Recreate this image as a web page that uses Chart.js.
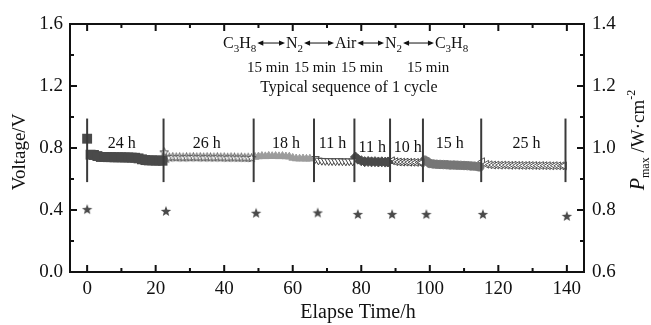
<!DOCTYPE html>
<html>
<head>
<meta charset="utf-8">
<script src="https://cdn.jsdelivr.net/npm/chart.js@4.4.1/dist/chart.umd.min.js"></script>
<style>
  html, body { margin: 0; padding: 0; background: #fff; }
  #wrap { width: 651px; height: 325px; }
</style>
</head>
<body>
<div id="wrap"><canvas id="chart"></canvas></div>
<script>
// ---- data ----
const x1 = [0, 1, 2, 3, 4, 5, 6, 7, 8, 9, 10, 11, 12, 13, 14, 15, 16, 17, 18, 19, 20, 21, 22];
const v1 = [0.86, 0.757, 0.755, 0.748, 0.742, 0.742, 0.741, 0.741, 0.740, 0.740, 0.740, 0.739, 0.739, 0.738, 0.737, 0.733, 0.727, 0.722, 0.720, 0.720, 0.719, 0.719, 0.718];

const x2 = [22.5, 23, 24, 25, 26, 27, 28, 29, 30, 31, 32, 33, 34, 35, 36, 37, 38, 39, 40, 41, 42, 43, 44, 45, 46, 47, 48];
const v2 = [0.775, 0.735, 0.742, 0.745, 0.743, 0.744, 0.742, 0.744, 0.743, 0.745, 0.743, 0.744, 0.742, 0.744, 0.743, 0.742, 0.744, 0.742, 0.743, 0.741, 0.743, 0.742, 0.741, 0.742, 0.740, 0.741, 0.739];

const x3 = [49, 50, 51, 52, 53, 54, 55, 56, 57, 58, 59, 60, 61, 62, 63, 64, 65];
const v3 = [0.742, 0.745, 0.748, 0.746, 0.749, 0.747, 0.748, 0.746, 0.748, 0.745, 0.744, 0.736, 0.732, 0.731, 0.732, 0.730, 0.731];

const x4 = [66.6, 67.5, 68.5, 69.5, 70.5, 71.5, 72.5, 73.5, 74.5, 75.5, 76.5, 77.5];
const v4 = [0.730, 0.720, 0.718, 0.717, 0.716, 0.716, 0.715, 0.716, 0.715, 0.714, 0.715, 0.714];

const x5 = [78.3, 79, 80, 81, 82, 83, 84, 85, 86, 87, 87.8];
const v5 = [0.742, 0.728, 0.718, 0.712, 0.713, 0.711, 0.712, 0.710, 0.711, 0.709, 0.710];

const x6 = [89, 90, 91, 92, 93, 94, 95, 96, 97, 97.7];
const v6 = [0.718, 0.712, 0.710, 0.709, 0.709, 0.708, 0.708, 0.707, 0.707, 0.706];

const x7 = [98.5, 99.3, 100, 101, 102, 103, 104, 105, 106, 107, 108, 109, 110, 111, 112, 113, 114, 114.6];
const v7 = [0.722, 0.712, 0.700, 0.697, 0.695, 0.694, 0.693, 0.692, 0.690, 0.690, 0.689, 0.688, 0.687, 0.686, 0.684, 0.683, 0.680, 0.678];

const x8 = [115.3, 116.5, 117.5, 118.5, 119.5, 120.5, 121.5, 122.5, 123.5, 124.5, 125.5, 126.5, 127.5, 128.5, 129.5, 130.5, 131.5, 132.5, 133.5, 134.5, 135.5, 136.5, 137.5, 138.5, 139.2];
const v8 = [0.712, 0.695, 0.692, 0.690, 0.690, 0.689, 0.690, 0.689, 0.688, 0.689, 0.688, 0.688, 0.687, 0.688, 0.687, 0.687, 0.686, 0.687, 0.686, 0.686, 0.685, 0.686, 0.685, 0.685, 0.685];

// Pmax (right axis)
const pmaxX = [0, 23, 49.3, 67.3, 79, 89, 99, 115.5, 140];
const pmaxV = [0.803, 0.797, 0.791, 0.792, 0.787, 0.787, 0.787, 0.787, 0.781];

// switching lines
const sepX = [0, 22.3, 48.6, 66.2, 78, 88.4, 98, 115, 139.6];
const sepLow = 0.58;
const sepHigh = 0.99;

// duration labels
const durText = ['24 h', '26 h', '18 h', '11 h', '11 h', '10 h', '15 h', '25 h'];
const durX = [10.1, 34.9, 58, 71.6, 83.2, 93.6, 105.8, 128.2];
const durY = [0.803, 0.803, 0.800, 0.800, 0.774, 0.774, 0.803, 0.800];

// axes
const xTicks = [0, 20, 40, 60, 80, 100, 120, 140];
const xMinor = [10, 30, 50, 70, 90, 110, 130];
const yTicks = [0.0, 0.4, 0.8, 1.2, 1.6];
const yMinor = [0.2, 0.6, 1.0, 1.4];
const y2Ticks = [0.6, 0.8, 1.0, 1.2, 1.4];
const y2Minor = [0.7, 0.9, 1.1, 1.3];

// inset
const gasNames = [[['C', 0], ['3', 1], ['H', 0], ['8', 1]], [['N', 0], ['2', 1]], [['Air', 0]], [['N', 0], ['2', 1]], [['C', 0], ['3', 1], ['H', 0], ['8', 1]]];
const gasStartX = [39.67, 58.04, 72.33, 86.92, 101.5];
const stepText = ['15 min', '15 min', '15 min', '15 min'];
const stepX = [52.8, 66.5, 80.2, 99.5];
const insetRowY = [1.445, 1.29, 1.161];
const insetTitle = 'Typical sequence of 1 cycle';
const insetTitleX = 76.4;

const SERIF = '"Liberation Serif", "Times New Roman", serif';

function starImg(r, fill, stroke) {
    const c = document.createElement('canvas');
    const s = Math.ceil(r * 2 + 3);
    c.width = s; c.height = s;
    const g = c.getContext('2d');
    g.beginPath();
    for (let i = 0; i < 10; i++) {
        const rr = i % 2 ? r * 0.42 : r;
        const a = -Math.PI / 2 + i * Math.PI / 5;
        g.lineTo(s / 2 + rr * Math.cos(a), s / 2 + 0.6 + rr * Math.sin(a));
    }
    g.closePath();
    g.fillStyle = fill;
    g.fill();
    if (stroke) { g.strokeStyle = stroke; g.lineWidth = 1; g.stroke(); }
    return c;
}

function pts(xs, ys) { return xs.map((x, i) => ({ x: x, y: ys[i] })); }

const dark = '#4a4a4a';
const mid = '#767676';
const light = '#9c9c9c';

const datasets = [];

// vertical separators on top
sepX.forEach(x => {
    datasets.push({
        data: [{ x: x, y: sepLow }, { x: x, y: sepHigh }],
        showLine: true, borderColor: '#3a3a3a', borderWidth: 2, pointRadius: 0
    });
});

datasets.push({ data: pts(pmaxX, pmaxV), yAxisID: 'y2', pointStyle: starImg(5.5, dark) });
datasets.push({ data: pts(x1, v1), pointStyle: 'rect', pointRadius: 7, backgroundColor: dark, borderColor: dark, borderWidth: 0 });
datasets.push({ data: pts(x2, v2), pointStyle: starImg(4.6, '#fff', '#555') });
datasets.push({ data: pts(x3, v3), pointStyle: 'triangle', pointRadius: 4.5, backgroundColor: light, borderColor: light, borderWidth: 1 });
datasets.push({ data: pts(x4, v4), pointStyle: 'triangle', rotation: 180, pointRadius: 4.5, backgroundColor: '#fff', borderColor: '#444', borderWidth: 1 });
datasets.push({ data: pts(x5, v5), pointStyle: 'rectRot', pointRadius: 5, backgroundColor: dark, borderColor: dark, borderWidth: 1 });
datasets.push({ data: pts(x6, v6), pointStyle: 'triangle', rotation: -90, pointRadius: 4.5, backgroundColor: '#fff', borderColor: '#444', borderWidth: 1 });
datasets.push({ data: pts(x7, v7), pointStyle: 'circle', pointRadius: 4.2, backgroundColor: mid, borderColor: mid, borderWidth: 1 });
datasets.push({ data: pts(x8, v8), pointStyle: 'triangle', rotation: -90, pointRadius: 4.5, backgroundColor: '#fff', borderColor: '#555', borderWidth: 1 });

// draw a run of [text, isSub] pieces, returns end x
function drawPieces(ctx, pieces, x, y, size, subSize) {
    ctx.textAlign = 'left';
    ctx.textBaseline = 'alphabetic';
    pieces.forEach(p => {
        ctx.font = (p[1] ? subSize : size) + 'px ' + SERIF;
        ctx.fillText(p[0], x, y + (p[1] ? 4 : 0));
        x += ctx.measureText(p[0]).width;
    });
    return x;
}

function dblArrow(ctx, xa, xb, y) {
    const hl = 6, hw = 2.6;
    ctx.lineWidth = 1;
    ctx.beginPath();
    ctx.moveTo(xa + 2, y); ctx.lineTo(xb - 2, y);
    ctx.stroke();
    ctx.beginPath();
    ctx.moveTo(xa, y); ctx.lineTo(xa + hl, y - hw); ctx.lineTo(xa + hl, y + hw); ctx.closePath();
    ctx.fill();
    ctx.beginPath();
    ctx.moveTo(xb, y); ctx.lineTo(xb - hl, y - hw); ctx.lineTo(xb - hl, y + hw); ctx.closePath();
    ctx.fill();
}

const deco = {
    id: 'deco',
    afterDraw(chart) {
        const ctx = chart.ctx;
        const a = chart.chartArea;
        const sx = chart.scales.x, sy = chart.scales.y, sy2 = chart.scales.y2;
        ctx.save();
        ctx.fillStyle = '#111';
        ctx.strokeStyle = '#111';

        // frame
        ctx.lineWidth = 2;
        ctx.strokeRect(a.left, a.top, a.right - a.left, a.bottom - a.top);

        // inward ticks
        const major = 7, minor = 4;
        ctx.beginPath();
        const xt = (v, len) => {
            const px = sx.getPixelForValue(v);
            ctx.moveTo(px, a.bottom); ctx.lineTo(px, a.bottom - len);
            ctx.moveTo(px, a.top); ctx.lineTo(px, a.top + len);
        };
        xTicks.forEach(v => xt(v, major));
        xMinor.forEach(v => xt(v, minor));
        const yt = (v, len) => {
            const py = sy.getPixelForValue(v);
            ctx.moveTo(a.left, py); ctx.lineTo(a.left + len, py);
        };
        yTicks.forEach(v => yt(v, major));
        yMinor.forEach(v => yt(v, minor));
        const y2t = (v, len) => {
            const py = sy2.getPixelForValue(v);
            ctx.moveTo(a.right, py); ctx.lineTo(a.right - len, py);
        };
        y2Ticks.forEach(v => y2t(v, major));
        y2Minor.forEach(v => y2t(v, minor));
        ctx.stroke();

        // duration labels
        ctx.font = '16px ' + SERIF;
        ctx.textAlign = 'center';
        ctx.textBaseline = 'alphabetic';
        durText.forEach((t, i) => {
            ctx.fillText(t, sx.getPixelForValue(durX[i]), sy.getPixelForValue(durY[i]));
        });

        // inset: gas sequence
        const rowY = insetRowY.map(v => sy.getPixelForValue(v));
        const ends = [];
        const starts = [];
        gasNames.forEach((g, i) => {
            const x0 = sx.getPixelForValue(gasStartX[i]);
            starts.push(x0);
            ends.push(drawPieces(ctx, g, x0, rowY[0], 16, 11));
        });
        for (let i = 0; i < gasNames.length - 1; i++) {
            dblArrow(ctx, ends[i] + 1, starts[i + 1] - 1, rowY[0] - 5);
        }
        ctx.font = '15px ' + SERIF;
        ctx.textAlign = 'center';
        stepText.forEach((t, i) => ctx.fillText(t, sx.getPixelForValue(stepX[i]), rowY[1]));
        ctx.font = '16px ' + SERIF;
        ctx.fillText(insetTitle, sx.getPixelForValue(insetTitleX), rowY[2]);

        // axis titles
        ctx.font = '20px ' + SERIF;
        ctx.textAlign = 'center';
        ctx.fillText('Elapse Time/h', 358, 318);

        ctx.save();
        ctx.translate(25, 152);
        ctx.rotate(-Math.PI / 2);
        ctx.font = '19px ' + SERIF;
        ctx.fillText('Voltage/V', 0, 0);
        ctx.restore();

        // right title P_max /W·cm^-2
        ctx.save();
        ctx.translate(644, 140);
        ctx.rotate(-Math.PI / 2);
        const parts = [
            { t: 'P', f: 'italic 20px ' + SERIF, dy: 0 },
            { t: 'max', f: '12px ' + SERIF, dy: 5 },
            { t: ' /W·cm', f: '19px ' + SERIF, dy: 0 },
            { t: '-2', f: '12px ' + SERIF, dy: -9 }
        ];
        let w = 0;
        parts.forEach(p => { ctx.font = p.f; w += ctx.measureText(p.t).width; });
        let cx = -w / 2;
        ctx.textAlign = 'left';
        parts.forEach(p => {
            ctx.font = p.f;
            ctx.fillText(p.t, cx, p.dy);
            cx += ctx.measureText(p.t).width;
        });
        ctx.restore();

        ctx.restore();
    }
};

const tickFont = { family: SERIF, size: 19 };
const noGrid = { display: false, drawTicks: false };

new Chart(document.getElementById('chart'), {
    type: 'scatter',
    data: { datasets: datasets },
    options: {
        responsive: true,
        maintainAspectRatio: false,
        animation: false,
        layout: { padding: { top: 24, left: 0, right: 0, bottom: 0 } },
        plugins: { legend: { display: false }, tooltip: { enabled: false } },
        scales: {
            x: {
                type: 'linear', min: -5, max: 145,
                grid: noGrid, border: { display: false },
                afterBuildTicks: s => { s.ticks = xTicks.map(v => ({ value: v })); },
                afterFit: s => { s.height = 53; },
                ticks: { font: tickFont, color: '#111', padding: 6, maxRotation: 0, autoSkip: false }
            },
            y: {
                position: 'left', min: 0, max: 1.6,
                grid: noGrid, border: { display: false },
                afterBuildTicks: s => { s.ticks = yTicks.map(v => ({ value: v })); },
                afterFit: s => { s.width = 70; },
                ticks: { font: tickFont, color: '#111', padding: 7, callback: v => v.toFixed(1) }
            },
            y2: {
                position: 'right', min: 0.6, max: 1.4,
                grid: noGrid, border: { display: false },
                afterBuildTicks: s => { s.ticks = y2Ticks.map(v => ({ value: v })); },
                afterFit: s => { s.width = 67; },
                ticks: { font: tickFont, color: '#111', padding: 8, callback: v => v.toFixed(1) }
            }
        }
    },
    plugins: [deco]
});
</script>
</body>
</html>
